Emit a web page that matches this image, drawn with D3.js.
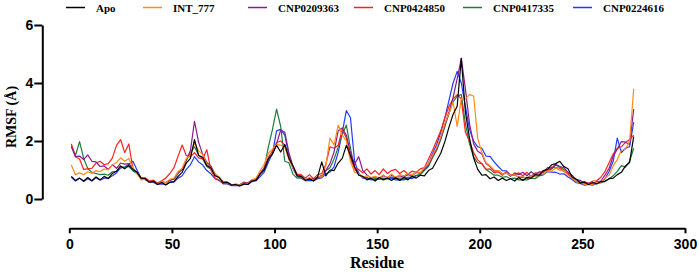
<!DOCTYPE html>
<html>
<head>
<meta charset="utf-8">
<script src="https://cdn.jsdelivr.net/npm/d3@7"></script>
<style>
  body { margin: 0; background: #fff; }
  svg { display: block; }
</style>
</head>
<body>
<div id="chart"></div>
<script>
// residues sampled every 2nd position, 1..275
const residues = d3.range(1, 276, 2);

const seriesNames = ["Apo", "INT_777", "CNP0209363", "CNP0424850", "CNP0417335", "CNP0224616"];
const seriesColors = ["#000000", "#ff8c1a", "#8b1c8b", "#ff2020", "#1e7b3c", "#1f3bff"];

const apo = [
  0.78, 0.64, 0.72, 0.62, 0.74, 0.63, 0.76, 0.66, 0.78, 0.70,
  0.88, 0.96, 1.14, 1.04, 1.16, 1.02, 0.92, 0.72, 0.70, 0.58,
  0.62, 0.50, 0.57, 0.48, 0.58, 0.60, 0.78, 0.92, 1.24, 1.40,
  2.05, 1.50, 1.44, 1.15, 1.08, 0.80, 0.74, 0.56, 0.58, 0.48,
  0.50, 0.45, 0.52, 0.50, 0.62, 0.64, 0.86, 1.00, 1.38, 1.55,
  1.85, 1.62, 1.88, 1.40, 1.14, 0.80, 0.78, 0.64, 0.70, 0.62,
  0.76, 1.28, 0.80, 1.00, 0.98, 1.24, 1.40, 1.85, 1.50, 1.12,
  0.82, 0.78, 0.66, 0.72, 0.62, 0.74, 0.66, 0.72, 0.64, 0.74,
  0.64, 0.74, 0.66, 0.78, 0.72, 0.82, 0.80, 0.98, 1.06, 1.32,
  1.58, 1.98, 2.48, 2.92, 3.20, 4.85, 3.00, 2.10, 1.42, 1.02,
  0.82, 0.84, 0.70, 0.76, 0.64, 0.72, 0.64, 0.70, 0.62, 0.74,
  0.64, 0.74, 0.72, 0.84, 0.82, 0.98, 1.02, 1.18, 1.22, 1.30,
  1.12, 1.04, 0.76, 0.68, 0.55, 0.58, 0.50, 0.57, 0.52, 0.60,
  0.60, 0.70, 0.72, 0.84, 0.92, 1.14, 1.26, 2.15
];

const int777 = [
  1.17, 0.84, 0.90, 0.84, 0.94, 0.88, 0.98, 0.94, 1.04, 1.00,
  1.18, 1.26, 1.42, 1.30, 1.40, 1.06, 0.88, 0.66, 0.68, 0.58,
  0.63, 0.52, 0.60, 0.56, 0.68, 0.72, 0.94, 1.06, 1.40, 1.50,
  1.95, 1.66, 1.54, 1.20, 1.08, 0.86, 0.75, 0.58, 0.57, 0.48,
  0.50, 0.47, 0.54, 0.52, 0.65, 0.72, 0.98, 1.20, 1.58, 1.72,
  1.88, 1.86, 1.78, 1.36, 1.08, 0.80, 0.78, 0.64, 0.74, 0.64,
  0.78, 0.76, 1.14, 2.10, 1.86, 2.55, 2.20, 2.00, 1.30, 0.92,
  0.88, 0.76, 0.80, 0.74, 0.78, 0.72, 0.84, 0.72, 0.86, 0.74,
  0.84, 0.80, 0.88, 0.82, 0.94, 0.90, 1.08, 1.22, 1.52, 1.78,
  2.15, 2.60, 2.95, 3.35, 2.50, 3.45, 3.45, 3.60, 3.55, 2.10,
  1.60, 1.26, 1.14, 1.00, 0.98, 0.86, 0.90, 0.82, 0.84, 0.74,
  0.78, 0.70, 0.80, 0.76, 0.88, 0.86, 0.98, 0.96, 1.08, 0.98,
  0.97, 0.82, 0.72, 0.60, 0.57, 0.50, 0.53, 0.50, 0.57, 0.58,
  0.72, 0.82, 1.14, 1.36, 1.68, 1.72, 1.98, 3.80
];

const cnp0209363 = [
  1.80, 1.46, 1.48, 1.36, 1.52, 1.30, 1.28, 1.12, 1.14, 1.02,
  1.18, 1.06, 1.24, 1.20, 1.22, 1.06, 0.92, 0.70, 0.68, 0.60,
  0.61, 0.53, 0.60, 0.57, 0.65, 0.68, 0.88, 1.02, 1.34, 1.66,
  2.68, 1.96, 1.54, 1.26, 1.14, 0.86, 0.75, 0.60, 0.57, 0.50,
  0.50, 0.48, 0.57, 0.55, 0.65, 0.67, 0.88, 1.06, 1.38, 1.56,
  1.90, 2.38, 2.30, 1.60, 1.12, 0.82, 0.80, 0.67, 0.71, 0.69,
  0.73, 0.78, 0.98, 1.22, 1.62, 2.35, 2.45, 2.20, 1.60, 1.20,
  1.46, 0.98, 0.83, 0.72, 0.76, 0.72, 0.80, 0.74, 0.82, 0.74,
  0.80, 0.76, 0.84, 0.80, 0.92, 0.88, 1.04, 1.16, 1.48, 1.72,
  2.10, 2.55, 3.00, 3.50, 4.15, 4.85, 3.80, 2.60, 1.90, 1.65,
  1.55, 1.22, 1.12, 0.96, 0.98, 0.86, 0.90, 0.78, 0.90, 0.84,
  0.92, 0.80, 0.94, 0.84, 0.94, 0.92, 1.08, 1.06, 1.20, 1.12,
  1.08, 0.92, 0.82, 0.67, 0.64, 0.55, 0.55, 0.52, 0.60, 0.62,
  0.82, 1.06, 1.48, 1.72, 1.98, 1.96, 1.88, 3.10
];

const cnp0424850 = [
  1.90, 1.46, 1.38, 1.02, 1.04, 1.06, 1.24, 1.30, 1.18, 1.22,
  1.42, 1.85, 2.05, 1.60, 1.90, 1.05, 0.88, 0.72, 0.73, 0.62,
  0.65, 0.55, 0.63, 0.72, 0.88, 1.08, 1.48, 1.86, 1.50, 1.45,
  1.60, 1.42, 1.38, 1.70, 1.00, 0.72, 0.65, 0.52, 0.55, 0.48,
  0.51, 0.49, 0.58, 0.55, 0.66, 0.67, 0.88, 1.06, 1.44, 1.66,
  1.95, 2.00, 1.85, 1.45, 1.12, 0.86, 0.84, 0.72, 0.84, 0.70,
  0.84, 0.88, 1.20, 1.80, 1.75, 1.85, 2.40, 2.10, 1.40, 1.05,
  1.02, 0.90, 1.04, 0.86, 0.98, 0.84, 1.04, 0.88, 0.98, 1.02,
  0.88, 0.98, 0.86, 0.96, 0.92, 1.04, 1.08, 1.38, 1.68, 2.02,
  2.35, 2.80, 3.20, 3.45, 3.60, 3.45, 2.30, 2.00, 1.60, 1.35,
  1.22, 1.02, 1.04, 0.90, 0.94, 0.82, 0.94, 0.82, 0.84, 0.90,
  0.80, 0.92, 0.78, 0.90, 0.88, 0.98, 0.98, 1.10, 1.08, 1.06,
  0.96, 0.88, 0.70, 0.68, 0.58, 0.60, 0.53, 0.62, 0.63, 0.75,
  0.95, 1.25, 1.55, 1.75, 1.80, 1.95, 2.05, 2.20
];

const cnp0417335 = [
  1.85, 1.50, 1.98, 1.40, 1.05, 0.92, 0.88, 0.84, 0.86, 0.82,
  0.94, 0.95, 1.08, 1.10, 1.12, 0.97, 0.88, 0.70, 0.68, 0.58,
  0.61, 0.53, 0.57, 0.56, 0.64, 0.70, 0.93, 1.02, 1.34, 1.58,
  1.80, 1.52, 1.38, 1.12, 1.03, 0.82, 0.73, 0.58, 0.57, 0.48,
  0.49, 0.48, 0.54, 0.53, 0.63, 0.67, 0.88, 1.08, 1.80, 2.40,
  3.10, 2.50, 1.30, 1.25, 0.85, 0.72, 0.73, 0.65, 0.68, 0.67,
  0.75, 0.82, 0.98, 1.08, 1.38, 1.78, 2.22, 2.55, 1.75, 1.05,
  0.86, 0.76, 0.74, 0.68, 0.70, 0.70, 0.72, 0.70, 0.76, 0.70,
  0.72, 0.72, 0.75, 0.76, 0.82, 0.84, 0.98, 1.12, 1.42, 1.68,
  2.05, 2.50, 2.95, 3.35, 3.55, 3.60, 2.60, 1.90, 1.45, 1.25,
  1.22, 1.02, 0.92, 0.82, 0.82, 0.75, 0.77, 0.70, 0.72, 0.66,
  0.67, 0.66, 0.72, 0.70, 0.80, 0.83, 0.97, 1.03, 1.17, 1.10,
  1.02, 0.86, 0.74, 0.60, 0.57, 0.50, 0.52, 0.50, 0.57, 0.56,
  0.62, 0.70, 0.80, 0.95, 1.15, 1.10, 1.30, 1.75
];

const cnp0224616 = [
  0.75, 0.62, 0.72, 0.60, 0.70, 0.62, 0.74, 0.65, 0.72, 0.72,
  0.80, 0.90, 1.07, 1.10, 1.20, 1.30, 1.00, 0.72, 0.67, 0.57,
  0.57, 0.50, 0.52, 0.50, 0.57, 0.58, 0.72, 0.80, 1.02, 1.18,
  1.46, 1.28, 1.17, 0.98, 0.87, 0.70, 0.64, 0.53, 0.52, 0.46,
  0.47, 0.45, 0.50, 0.50, 0.60, 0.63, 0.77, 0.93, 1.27, 1.58,
  2.35, 2.40, 2.20, 1.50, 1.05, 0.78, 0.72, 0.63, 0.64, 0.63,
  0.70, 0.73, 0.87, 0.93, 1.12, 1.60, 2.30, 3.05, 2.80, 1.30,
  0.90, 0.72, 0.72, 0.66, 0.67, 0.68, 0.70, 0.70, 0.72, 0.66,
  0.67, 0.66, 0.72, 0.70, 0.80, 0.83, 1.02, 1.23, 1.57, 1.88,
  2.30, 2.80, 3.40, 4.00, 4.40, 4.00, 3.20, 2.40, 2.00, 1.80,
  1.75, 1.48, 1.47, 1.28, 1.12, 0.98, 0.97, 0.83, 0.82, 0.76,
  0.74, 0.73, 0.80, 0.78, 0.84, 0.86, 0.94, 0.93, 0.92, 0.86,
  0.87, 0.76, 0.67, 0.56, 0.54, 0.48, 0.50, 0.48, 0.54, 0.56,
  0.70, 0.95, 1.30, 2.10, 1.60, 1.75, 1.80, 2.65
];

const seriesValues = [apo, int777, cnp0209363, cnp0424850, cnp0417335, cnp0224616];
const xTicks = [0, 50, 100, 150, 200, 250, 300];
const yTicks = [0, 2, 4, 6];

const W = 699, H = 276;
const svg = d3.select("#chart").append("svg")
    .attr("width", W)
    .attr("height", H);

// Scales
const x = d3.scaleLinear().domain([0, 300]).range([69.3, 685]);
const y = d3.scaleLinear().domain([0, 6]).range([199, 25]);

// Axes
const xAxis = svg.append("g")
    .attr("transform", "translate(0,228.3)")
    .call(d3.axisBottom(x).tickValues(xTicks).tickSize(5).tickSizeOuter(0).tickPadding(6));

const yAxis = svg.append("g")
    .attr("transform", "translate(42.3,0)")
    .call(d3.axisLeft(y).tickValues(yTicks).tickFormat(d3.format("d"))
        .tickSize(8).tickSizeOuter(0).tickPadding(1));

[xAxis, yAxis].forEach(a => {
    a.selectAll("path, line").attr("stroke", "#000").attr("stroke-width", 2);
    a.selectAll("text")
        .attr("fill", "#000")
        .style("font-family", "'Liberation Sans', Arial, sans-serif")
        .style("font-weight", "bold")
        .style("font-size", "14px");
});

// Axis titles
svg.append("text")
    .attr("x", 377)
    .attr("y", 268)
    .attr("text-anchor", "middle")
    .style("font-family", "'Liberation Serif', 'Times New Roman', serif")
    .style("font-weight", "bold")
    .style("font-size", "16px")
    .text("Residue");

svg.append("text")
    .attr("transform", "translate(16,117) rotate(-90)")
    .attr("text-anchor", "middle")
    .style("font-family", "'Liberation Serif', 'Times New Roman', serif")
    .style("font-weight", "bold")
    .style("font-size", "14px")
    .text("RMSF (Å)");

// Lines (Apo drawn last so it sits on top)
const line = d3.line()
    .x((d, i) => x(residues[i]))
    .y(d => y(d));

const order = [5, 4, 3, 2, 1, 0];
svg.append("g").selectAll("path")
    .data(order)
    .enter()
    .append("path")
    .attr("d", k => line(seriesValues[k]))
    .attr("fill", "none")
    .attr("stroke", k => seriesColors[k])
    .attr("stroke-width", 1.2)
    .attr("stroke-linejoin", "round");

// Legend
const legendX = [66, 143, 248, 354, 463, 573];
const legend = svg.append("g").selectAll("g")
    .data(seriesNames)
    .enter()
    .append("g")
    .attr("transform", (d, i) => `translate(${legendX[i]},7.5)`);

legend.append("line")
    .attr("x1", 0).attr("x2", 19)
    .attr("stroke", (d, i) => seriesColors[i])
    .attr("stroke-width", 1.5);

legend.append("text")
    .attr("x", 30)
    .attr("y", 4)
    .style("font-family", "'Liberation Serif', 'Times New Roman', serif")
    .style("font-weight", "bold")
    .style("font-size", "11px")
    .text(d => d);
</script>
</body>
</html>
